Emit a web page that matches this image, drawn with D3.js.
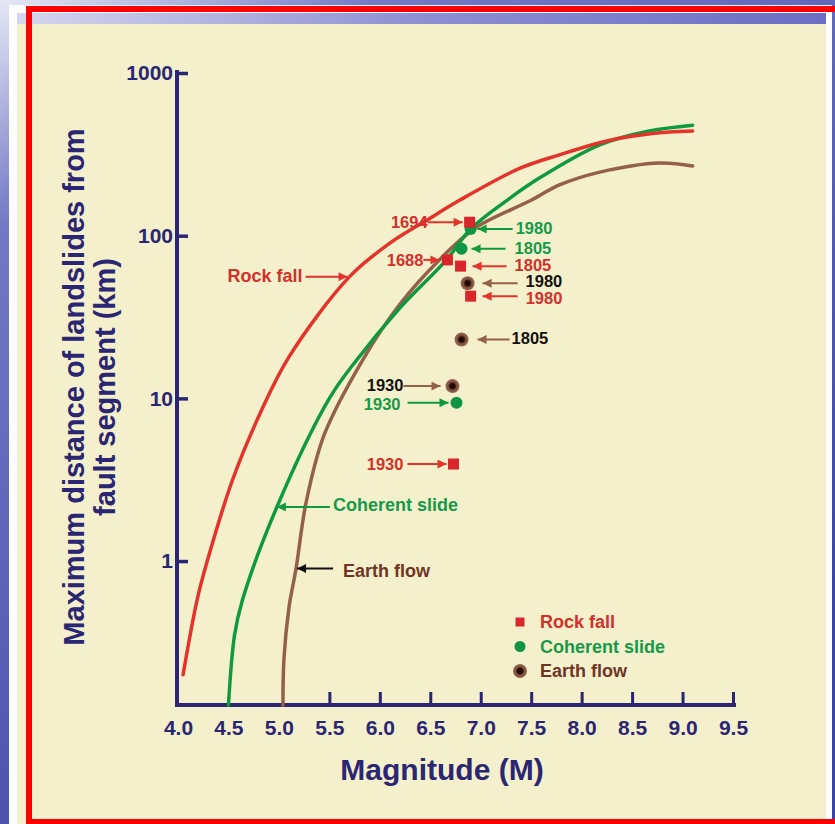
<!DOCTYPE html>
<html>
<head>
<meta charset="utf-8">
<script src="https://cdnjs.cloudflare.com/ajax/libs/d3/7.8.5/d3.min.js"></script>
<style>
  body { margin: 0; padding: 0; overflow: hidden; background: #6a6fc0; }
  text { font-family: "Liberation Sans", Arial, sans-serif; font-weight: bold; }
</style>
</head>
<body>
<div id="chart"></div>
<script>
// curves, magnitude vs max distance (km)
var rockFallM   = [4.05, 4.19, 4.29, 4.54, 4.83, 5.1, 5.7, 6.1, 6.47, 6.79, 7.39, 7.78, 8.28, 8.7, 9.1];
var rockFallKm  = [0.2, 0.58, 1.0, 3.15, 8.5, 18, 56, 90, 125, 165, 260, 314, 386, 425, 440];
var coherentM   = [4.5, 4.56, 4.64, 4.98, 5.5, 5.77, 6.2, 6.66, 6.9, 7.26, 7.6, 8.18, 8.67, 9.1];
var coherentKm  = [0.13, 0.35, 0.58, 2.15, 10, 17.2, 36, 71, 110, 165, 230, 362, 440, 478];
var earthFlowM  = [5.04, 5.05, 5.1, 5.17, 5.27, 5.45, 5.83, 6.2, 6.59, 6.96, 7.5, 7.78, 8.18, 8.77, 9.1];
var earthFlowKm = [0.13, 0.25, 0.52, 0.9, 2.3, 6, 17.2, 38, 71, 113, 165, 205, 246, 280, 268];

// observed events
var rockFallYears  = ["1694", "1688", "1805", "1980", "1930"];
var rockFallPtM    = [6.89, 6.67, 6.8, 6.9, 6.73];
var rockFallPtKm   = [121, 71, 65, 42.5, 3.95];
var coherentYears  = ["1980", "1805", "1930"];
var coherentPtM    = [6.9, 6.81, 6.76];
var coherentPtKm   = [110, 83, 9.4];
var earthFlowYears = ["1980", "1805", "1930"];
var earthFlowPtM   = [6.87, 6.81, 6.72];
var earthFlowPtKm  = [51, 23, 11.9];

// axis ticks
var xTicks = [4.0, 4.5, 5.0, 5.5, 6.0, 6.5, 7.0, 7.5, 8.0, 8.5, 9.0, 9.5];
var yTicks = [1, 10, 100, 1000];
var seriesNames = ["Rock fall", "Coherent slide", "Earth flow"];

var navy = "#2b2673",
    red = "#e3332a", redText = "#d42f2a",
    green = "#109a3e", greenText = "#17994a",
    brown = "#946049", brownText = "#6e3526";

var w = 835, h = 824;

var svg = d3.select("#chart").append("svg")
  .attr("width", w).attr("height", h);

var defs = svg.append("defs");

var bg = defs.append("linearGradient").attr("id", "bg")
  .attr("x1", 0).attr("y1", 0).attr("x2", 0.6).attr("y2", 1);
bg.append("stop").attr("offset", 0).attr("stop-color", "#e6e8f5");
bg.append("stop").attr("offset", 0.2).attr("stop-color", "#7379c6");
bg.append("stop").attr("offset", 1).attr("stop-color", "#3a42a6");

var strip = defs.append("linearGradient").attr("id", "strip")
  .attr("x1", 0).attr("y1", 0).attr("x2", 1).attr("y2", 0);
strip.append("stop").attr("offset", 0).attr("stop-color", "#d6d6ee");
strip.append("stop").attr("offset", 0.5).attr("stop-color", "#8c8fd2");
strip.append("stop").attr("offset", 1).attr("stop-color", "#6a6ec4");

var ef = defs.append("radialGradient").attr("id", "ef");
ef.append("stop").attr("offset", 0).attr("stop-color", "#150303");
ef.append("stop").attr("offset", 0.38).attr("stop-color", "#2e120c");
ef.append("stop").attr("offset", 0.6).attr("stop-color", "#7a4c3b");
ef.append("stop").attr("offset", 1).attr("stop-color", "#9b6c57");

// arrow heads
function arrowHead(id, col){
  defs.append("marker").attr("id", id)
    .attr("viewBox", "0 0 10 10")
    .attr("refX", 10).attr("refY", 5)
    .attr("markerUnits", "userSpaceOnUse")
    .attr("markerWidth", 10).attr("markerHeight", 9)
    .attr("orient", "auto")
    .append("path").attr("d", "M0,0L10,5L0,10z").attr("fill", col);
}
var arrowCol = {"ar-red": red, "ar-green": green, "ar-brown": brown, "ar-black": "#111"};
for (var k in arrowCol) arrowHead(k, arrowCol[k]);

// slide background + frame
svg.append("rect").attr("width", w).attr("height", h).attr("fill", "url(#bg)");
svg.append("rect").attr("x", 9).attr("y", 5).attr("width", 823).attr("height", h - 5).attr("fill", "#fdfdff");
svg.append("rect").attr("x", 17).attr("y", 13).attr("width", 809).attr("height", 11).attr("fill", "url(#strip)");
svg.append("rect").attr("x", 17).attr("y", 24).attr("width", 809).attr("height", h - 24).attr("fill", "#f4f0cc");

var xScale = d3.scaleLinear().domain([4.0, 9.5]).range([178, 733]),
    yScale = d3.scaleLog().domain([0.1304, 1000]).range([705, 73]);

var line = d3.line()
  .x(function(d){ return xScale(d[0]); })
  .y(function(d){ return yScale(d[1]); })
  .curve(d3.curveCatmullRom.alpha(0.5));

function zip(a, b){ return a.map(function(v, i){ return [v, b[i]]; }); }

// axes
var xAxis = d3.axisBottom(xScale).tickValues(xTicks)
  .tickSizeInner(-13).tickSizeOuter(0).tickPadding(15)
  .tickFormat(d3.format(".1f"));
var yAxis = d3.axisLeft(yScale).tickValues(yTicks)
  .tickSizeInner(-11).tickSizeOuter(0).tickPadding(4)
  .tickFormat(d3.format("d"));

var gx = svg.append("g").attr("transform", "translate(0,705)").call(xAxis);
var gy = svg.append("g").attr("transform", "translate(177,0)").call(yAxis);
gx.select(".domain").remove();
gy.select(".domain").remove();
gx.selectAll(".tick line").attr("stroke", navy).attr("stroke-width", 3)
  .filter(function(d){ return d < 5.5; }).remove();
gy.selectAll(".tick line").attr("stroke", navy).attr("stroke-width", 3.5);
gx.selectAll(".tick text").attr("fill", navy).style("font-size", "21px").style("font-family", "Liberation Sans, Arial, sans-serif");
gy.selectAll(".tick text").attr("fill", navy).style("font-size", "21px").style("font-family", "Liberation Sans, Arial, sans-serif");

svg.append("path")
  .attr("d", "M177," + (yScale(1000) - 3) + "V705H" + (xScale(9.5) + 3))
  .attr("fill", "none").attr("stroke", navy).attr("stroke-width", 4);

// axis titles
svg.append("text")
  .attr("x", 442).attr("y", 780)
  .attr("text-anchor", "middle").attr("fill", navy)
  .style("font-size", "30px").text("Magnitude (M)");

var yTitle = svg.append("text")
  .attr("transform", "translate(84,387) rotate(-90)")
  .attr("text-anchor", "middle").attr("fill", navy)
  .style("font-size", "29px");
yTitle.append("tspan").attr("x", 0).attr("y", 0).text("Maximum distance of landslides from");
yTitle.append("tspan").attr("x", 0).attr("y", 31).text("fault segment (km)");

// curves
var curves = [
  {data: zip(rockFallM, rockFallKm), col: red},
  {data: zip(coherentM, coherentKm), col: green},
  {data: zip(earthFlowM, earthFlowKm), col: brown}
];
// brown first so green sits over it
[curves[2], curves[1], curves[0]].forEach(function(c){
  svg.append("path").datum(c.data)
    .attr("fill", "none").attr("stroke", c.col)
    .attr("stroke-width", 3.5)
    .attr("stroke-linejoin", "round").attr("stroke-linecap", "round")
    .attr("d", line);
});

// arrow + label; side "left" means text to the left of the target
function callout(px, py, side, gap, len, tgap, tdy, txt, txtCol, arrowId, fs){
  var dir = side == "left" ? -1 : 1;
  var tip = px + dir * gap, tail = tip + dir * len;
  svg.append("line")
    .attr("x1", tail).attr("y1", py).attr("x2", tip).attr("y2", py)
    .attr("stroke", arrowCol[arrowId])
    .attr("stroke-width", 2)
    .attr("marker-end", "url(#" + arrowId + ")");
  svg.append("text")
    .attr("x", tail + dir * tgap).attr("y", py + tdy).attr("dy", "0.36em")
    .attr("text-anchor", side == "left" ? "end" : "start")
    .attr("fill", txtCol).style("font-size", fs + "px").text(txt);
}

// curve labels
callout(xScale(5.7), yScale(56), "left", 2, 42, 3, -1, seriesNames[0], redText, "ar-red", 18);
callout(xScale(4.98), yScale(2.15), "right", 0, 53, 3, -2, seriesNames[1], greenText, "ar-green", 18);
callout(xScale(5.17), yScale(0.9), "right", 1, 36, 10, 2, seriesNames[2], brownText, "ar-black", 18);

// label layout per event: side, gap to arrow tip, arrow length, text gap, text shift
var rockFallLayout  = [["left", 7, 35, 0, 0], ["left", 8, 16, 0, 0], ["right", 12, 34, 8, -1], ["right", 12, 35, 8, 2], ["left", 7, 39, 4, 0]];
var coherentLayout  = [["right", 7, 35, 3, -1], ["right", 10, 34, 9, -1], ["left", 8, 41, 7, 1]];
var earthFlowLayout = [["right", 15, 35, 8, -2], ["right", 16, 32, 2, -1], ["left", 12, 37, 0, -1]];

rockFallYears.forEach(function(yr, i){
  var L = rockFallLayout[i];
  callout(xScale(rockFallPtM[i]), yScale(rockFallPtKm[i]), L[0], L[1], L[2], L[3], L[4], yr, redText, "ar-red", 16.5);
});
coherentYears.forEach(function(yr, i){
  var L = coherentLayout[i];
  callout(xScale(coherentPtM[i]), yScale(coherentPtKm[i]), L[0], L[1], L[2], L[3], L[4], yr, greenText, "ar-green", 16.5);
});
earthFlowYears.forEach(function(yr, i){
  var L = earthFlowLayout[i];
  callout(xScale(earthFlowPtM[i]), yScale(earthFlowPtKm[i]), L[0], L[1], L[2], L[3], L[4], yr, "#141010", "ar-brown", 16.5);
});

// point markers
function square(x, y, s){
  svg.append("rect").attr("x", x - s / 2).attr("y", y - s / 2)
    .attr("width", s).attr("height", s).attr("fill", "#d9262a");
}
function dot(x, y, r){
  svg.append("circle").attr("cx", x).attr("cy", y).attr("r", r).attr("fill", "#0f9644");
}
function flow(x, y, r){
  svg.append("circle").attr("cx", x).attr("cy", y).attr("r", r).attr("fill", "url(#ef)");
}

earthFlowPtM.forEach(function(m, i){ flow(xScale(m), yScale(earthFlowPtKm[i]), 7); });
coherentPtM.forEach(function(m, i){ dot(xScale(m), yScale(coherentPtKm[i]), 6); });
rockFallPtM.forEach(function(m, i){ square(xScale(m), yScale(rockFallPtKm[i]), 11); });

// legend
var lx = 520, ly = 622, lstep = 24.5;
square(lx, ly, 9);
dot(lx, ly + lstep, 5.5);
flow(lx, ly + 2 * lstep, 7);
[redText, greenText, brownText].forEach(function(col, i){
  svg.append("text").attr("x", lx + 20).attr("y", ly + i * lstep).attr("dy", "0.36em")
    .attr("fill", col).style("font-size", "18px").text(seriesNames[i]);
});

// red slide frame
svg.append("rect").attr("x", 29).attr("y", 9).attr("width", w).attr("height", 813)
  .attr("fill", "none").attr("stroke", "#ff0000").attr("stroke-width", 6);
</script>
</body>
</html>
